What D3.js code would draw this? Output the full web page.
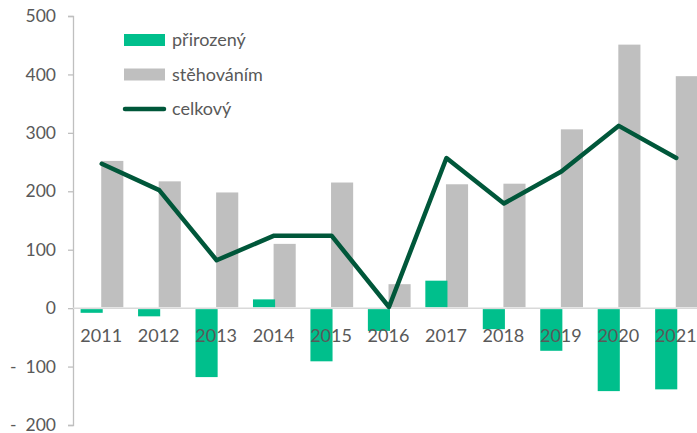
<!DOCTYPE html>
<html lang="cs">
<head>
  <meta charset="UTF-8">
  <title>Přírůstek obyvatel</title>
  <style>
    body { margin: 0; background: #fff; font-family: Lato, "Open Sans", sans-serif; }
    svg text { fill: #595959; }
    .tick text { white-space: pre; }
  </style>
</head>
<body>
<svg id="chart" width="697" height="433"></svg>
<script src="https://d3js.org/d3.v7.min.js"></script>
<script>
  // data
  const years = ["2011", "2012", "2013", "2014", "2015", "2016", "2017", "2018", "2019", "2020", "2021"];
  const prirozeny = [-8, -14, -118, 15, -91, -39, 47, -36, -73, -142, -139];
  const stehovanim = [252, 217, 198, 110, 215, 41, 212, 213, 306, 451, 397];
  const celkovy = [247, 202, 82, 124, 124, 2, 257, 179, 234, 312, 257];
  const yTicks = [-200, -100, 0, 100, 200, 300, 400, 500];
  const legendNames = ["přirozený", "stěhováním", "celkový"];

  const cGreen = "#00BF8C", cGrey = "#BFBFBF", cLine = "#00573A";

  const svg = d3.select("#chart");

  const x = d3.scaleBand().domain(years).range([73, 705]);
  const y = d3.scaleLinear().domain([-200, 500]).range([425, 16]);
  const bw = x.bandwidth() * 0.385;

  // y axis
  const yAxis = svg.append("g")
    .attr("transform", "translate(73,0)")
    .call(d3.axisLeft(y).tickValues(yTicks).tickSize(5).tickPadding(12)
      .tickFormat(d => d < 0 ? "-  " + Math.abs(d) : d));
  yAxis.select(".domain").attr("stroke", "#BFBFBF").attr("stroke-width", 1.3);
  yAxis.selectAll(".tick line").attr("stroke", "#BFBFBF").attr("stroke-width", 1.3);
  yAxis.selectAll(".tick text").attr("font-size", 17.5).attr("font-family", "Lato").style("fill", "#595959");

  // zero line
  svg.append("line")
    .attr("x1", 73).attr("x2", 697)
    .attr("y1", y(0)).attr("y2", y(0))
    .attr("stroke", "#D9D9D9").attr("stroke-width", 1.5);

  // bars
  svg.append("g").selectAll("rect")
    .data(stehovanim)
    .join("rect")
    .attr("x", (d, i) => x(years[i]) + x.bandwidth() / 2 - 0.5)
    .attr("width", bw)
    .attr("y", d => y(Math.max(0, d)))
    .attr("height", d => Math.abs(y(d) - y(0)) - 1)
    .attr("fill", cGrey);

  svg.append("g").selectAll("rect")
    .data(prirozeny)
    .join("rect")
    .attr("x", (d, i) => x(years[i]) + x.bandwidth() / 2 - bw + 1)
    .attr("width", bw)
    .attr("y", d => d < 0 ? y(0) + 1 : y(d))
    .attr("height", d => Math.abs(y(d) - y(0)) - 1)
    .attr("fill", cGreen);

  // x labels
  svg.append("g").selectAll("text")
    .data(years)
    .join("text")
    .attr("x", d => x(d) + x.bandwidth() / 2 - 0.5)
    .attr("y", 342)
    .attr("text-anchor", "middle")
    .attr("font-size", 18)
    .text(d => d);

  // total line
  const line = d3.line()
    .x((d, i) => x(years[i]) + x.bandwidth() / 2)
    .y(d => y(d));
  svg.append("path")
    .datum(celkovy)
    .attr("d", line)
    .attr("fill", "none")
    .attr("stroke", cLine)
    .attr("stroke-width", 4.5)
    .attr("stroke-linejoin", "round")
    .attr("stroke-linecap", "round");

  // legend
  const lg = svg.append("g").attr("transform", "translate(124,40)");
  const rows = lg.selectAll("g")
    .data(legendNames)
    .join("g")
    .attr("transform", (d, i) => `translate(0,${i * 34.5})`);
  rows.filter((d, i) => i < 2).append("rect")
    .attr("x", 0).attr("y", -6).attr("width", 41).attr("height", 12)
    .attr("fill", (d, i) => i === 0 ? cGreen : cGrey);
  rows.filter((d, i) => i === 2).append("line")
    .attr("x1", 1).attr("x2", 40).attr("y1", 0).attr("y2", 0)
    .attr("stroke", cLine).attr("stroke-width", 4.5).attr("stroke-linecap", "round");
  rows.append("text")
    .attr("x", 48).attr("y", 6)
    .attr("font-size", 18)
    .text(d => d);
</script>
</body>
</html>
